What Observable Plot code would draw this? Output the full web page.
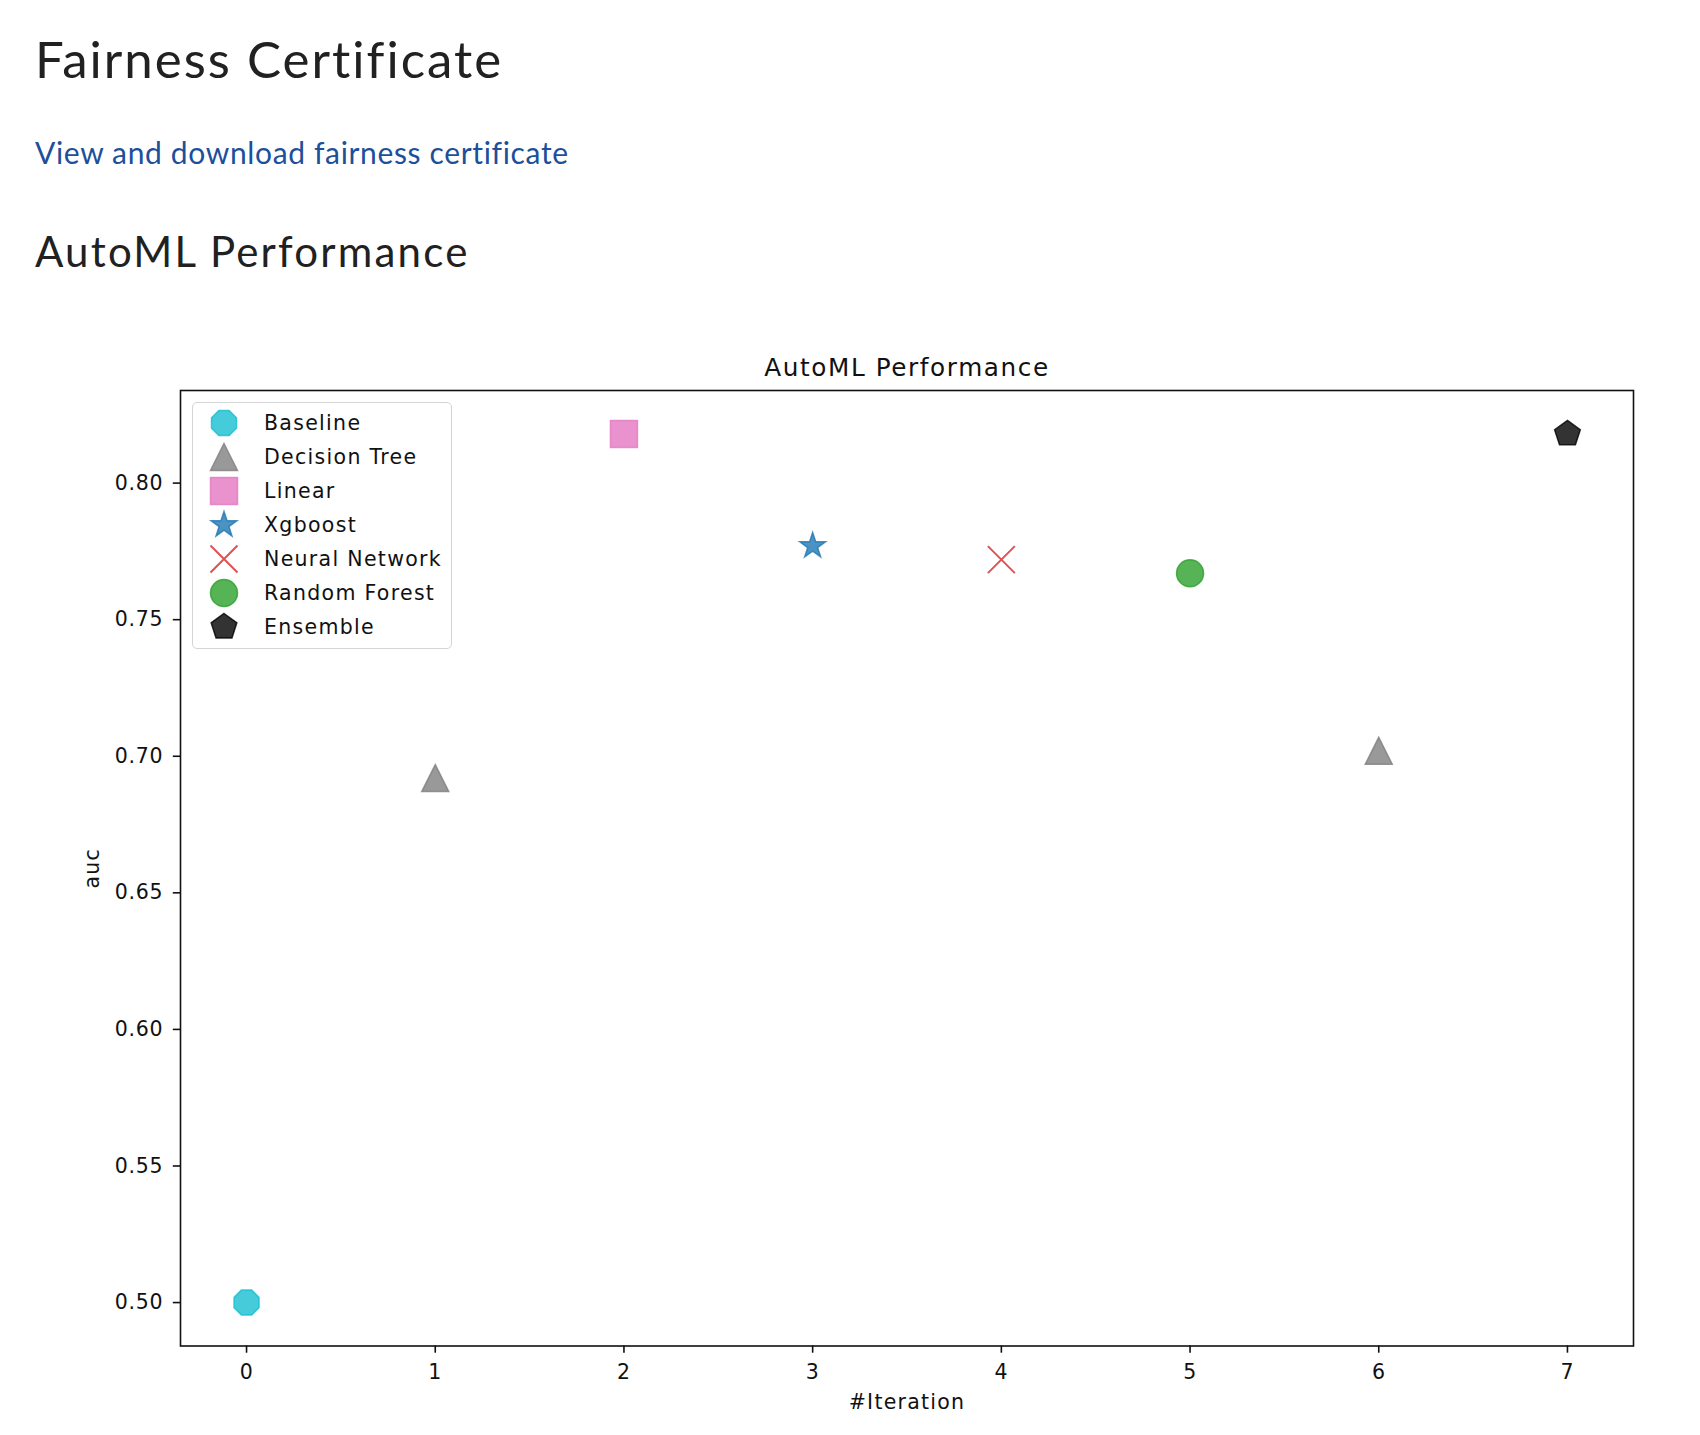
<!DOCTYPE html>
<html>
<head>
<meta charset="utf-8">
<script src="https://cdn.jsdelivr.net/npm/d3@7"></script>
<script src="https://cdn.jsdelivr.net/npm/@observablehq/plot@0.6"></script>
<style>
  html, body { margin: 0; padding: 0; background: #fff; }
  body { position: relative; width: 1700px; height: 1435px; overflow: hidden; }
  .hdr { position: absolute; left: 35px; margin: 0; line-height: 1; font-family: Lato, "Open Sans", sans-serif; font-weight: 400; color: #212121; white-space: nowrap; }
  #h1 { top: 33px; font-size: 51px; letter-spacing: 2px; }
  #link { top: 137px; font-size: 30px; color: #1c4f9c; letter-spacing: 0.65px; }
  #h2 { top: 230px; font-size: 42px; letter-spacing: 2.2px; }
  #chart { position: absolute; left: 0; top: 300px; }
  #legend { position: absolute; left: 192px; top: 402px; width: 258px; height: 245px;
            border: 1.6px solid #d4d4d4; border-radius: 5px; background: rgba(255,255,255,0.8);
            font-family: "DejaVu Sans", sans-serif; font-size: 20.5px; color: #111; }
  .row { position: absolute; left: 0; height: 34px; width: 100%; }
  .row svg { position: absolute; left: 14px; top: 0; }
  .row span { position: absolute; left: 71px; top: 50%; transform: translateY(-50%); line-height: 1; white-space: nowrap; letter-spacing: 1.3px; }
</style>
</head>
<body>
<div class="hdr" id="h1">Fairness Certificate</div>
<div class="hdr" id="link">View and download fairness certificate</div>
<div class="hdr" id="h2">AutoML Performance</div>
<div id="chart"></div>
<div id="legend"></div>
<script>
// ---- data ----
const iterations = [0, 1, 2, 3, 4, 5, 6, 7];
const auc = [0.500, 0.692, 0.818, 0.777, 0.772, 0.767, 0.702, 0.818];
const models = ["Baseline", "Decision Tree", "Linear", "Xgboost", "Neural Network", "Random Forest", "Decision Tree", "Ensemble"];
const legendOrder = ["Baseline", "Decision Tree", "Linear", "Xgboost", "Neural Network", "Random Forest", "Ensemble"];
const modelColors = ["#17becf", "#7f7f7f", "#e377c2", "#1f77b4", "#d62728", "#2ca02c", "#000000"];
const modelMarkers = ["octagon", "triangle", "square", "star", "x", "circle", "pentagon"];
const yTicks = [0.50, 0.55, 0.60, 0.65, 0.70, 0.75, 0.80];
const chartTitle = "AutoML Performance";
const xLabel = "#Iteration";
const yLabel = "auc";

// ---- marker shapes (matplotlib-like) ----
function polygon(n, rotDeg) {
  return {
    draw(ctx, size) {
      const r = Math.sqrt(size / Math.PI);
      for (let i = 0; i < n; i++) {
        const a = -Math.PI / 2 + (2 * Math.PI * i) / n + rotDeg * Math.PI / 180;
        const px = r * Math.cos(a), py = r * Math.sin(a);
        if (i === 0) ctx.moveTo(px, py); else ctx.lineTo(px, py);
      }
      ctx.closePath();
    }
  };
}
const shapes = {
  octagon: polygon(8, 22.5),
  pentagon: polygon(5, 0),
  triangle: { draw(ctx, size) { const r = Math.sqrt(size / Math.PI); ctx.moveTo(0, -r); ctx.lineTo(r, r); ctx.lineTo(-r, r); ctx.closePath(); } },
  square: { draw(ctx, size) { const r = Math.sqrt(size / Math.PI); ctx.moveTo(-r, -r); ctx.lineTo(r, -r); ctx.lineTo(r, r); ctx.lineTo(-r, r); ctx.closePath(); } },
  star: { draw(ctx, size) {
      const r = Math.sqrt(size / Math.PI), ri = r * 0.381966;
      for (let i = 0; i < 10; i++) {
        const a = -Math.PI / 2 + (Math.PI * i) / 5, rr = i % 2 ? ri : r;
        const px = rr * Math.cos(a), py = rr * Math.sin(a);
        if (i === 0) ctx.moveTo(px, py); else ctx.lineTo(px, py);
      }
      ctx.closePath();
  } },
  x: { draw(ctx, size) { const r = Math.sqrt(size / Math.PI); ctx.moveTo(-r, -r); ctx.lineTo(r, r); ctx.moveTo(-r, r); ctx.lineTo(r, -r); } },
  circle: { draw(ctx, size) { const r = Math.sqrt(size / Math.PI); ctx.moveTo(r, 0); ctx.arc(0, 0, r, 0, 2 * Math.PI); ctx.closePath(); } }
};

const R = 13.5;
function styleFor(i) {
  const c = modelColors[i];
  if (modelMarkers[i] === "x") return { fill: "none", stroke: c, strokeOpacity: 0.8, strokeWidth: 2 };
  return { fill: c, fillOpacity: 0.8, stroke: c, strokeOpacity: 0.8, strokeWidth: 1.5 };
}

const rows = iterations.map((it, i) => ({ iteration: it, auc: auc[i], model: models[i] }));

// matplotlib-style 5% margins
const xMin = d3.min(iterations), xMax = d3.max(iterations);
const yMin = d3.min(auc), yMax = d3.max(auc);
const xPad = (xMax - xMin) * 0.05, yPad = (yMax - yMin) * 0.05;

const dotMarks = legendOrder.map((m, i) =>
  Plot.dot(rows.filter(d => d.model === m), {
    x: "iteration", y: "auc", r: R, symbol: shapes[modelMarkers[i]], ...styleFor(i)
  })
);

const chart = Plot.plot({
  width: 1700,
  height: 1135,
  marginTop: 90,
  marginBottom: 89.5,
  marginLeft: 180,
  marginRight: 67,
  style: { fontFamily: "DejaVu Sans, sans-serif", fontSize: "20.5px", color: "#111", background: "white", overflow: "visible" },
  x: { domain: [xMin - xPad, xMax + xPad] },
  y: { domain: [yMin - yPad, yMax + yPad] },
  marks: [
    Plot.axisX({ ticks: iterations, tickFormat: d3.format("d"), tickSize: 7.2, tickPadding: 11.5, strokeWidth: 1.6, fontSize: 20.5, label: null }),
    Plot.axisY({ ticks: yTicks, tickFormat: d3.format(".2f"), tickSize: 7.2, tickPadding: 10, strokeWidth: 1.6, fontSize: 20.5, label: null }),
    ...dotMarks,
    Plot.frame({ stroke: "#111", strokeWidth: 1.6 }),
    Plot.text([chartTitle], { text: d => d, frameAnchor: "top", lineAnchor: "middle", dy: -22.5, fontSize: 24.7 }),
    Plot.text([xLabel], { text: d => d, frameAnchor: "bottom", lineAnchor: "middle", dy: 56.5, fontSize: 20.5 }),
    Plot.text([yLabel], { text: d => d, frameAnchor: "left", textAnchor: "middle", lineAnchor: "middle", dx: -88, rotate: -90, fontSize: 20.5 })
  ]
});
document.getElementById("chart").appendChild(chart);

// widen text slightly to match the hinted matplotlib rendering
const svg = d3.select(chart);
svg.selectAll('g[aria-label="x-axis tick label"] text, g[aria-label="y-axis tick label"] text').style("letter-spacing", "0.7px");
svg.selectAll('g[aria-label="text"] text').style("letter-spacing", "1.25px");
svg.selectAll('g[aria-label="text"] text').filter(function () { return this.textContent === chartTitle; }).style("letter-spacing", "1.6px");

// ---- legend (matplotlib-like box in the upper left) ----
const legend = d3.select("#legend");
legendOrder.forEach((m, i) => {
  const row = legend.append("div").attr("class", "row").style("top", (2.5 + i * 34.15) + "px");
  const s = row.append("svg").attr("width", 34).attr("height", 34);
  const st = styleFor(i);
  s.append("path")
    .attr("transform", "translate(17,17)")
    .attr("d", d3.symbol().type(shapes[modelMarkers[i]]).size(Math.PI * R * R)())
    .attr("fill", st.fill).attr("fill-opacity", st.fillOpacity ?? null)
    .attr("stroke", st.stroke).attr("stroke-opacity", st.strokeOpacity).attr("stroke-width", st.strokeWidth);
  row.append("span").text(m);
});
</script>
</body>
</html>
